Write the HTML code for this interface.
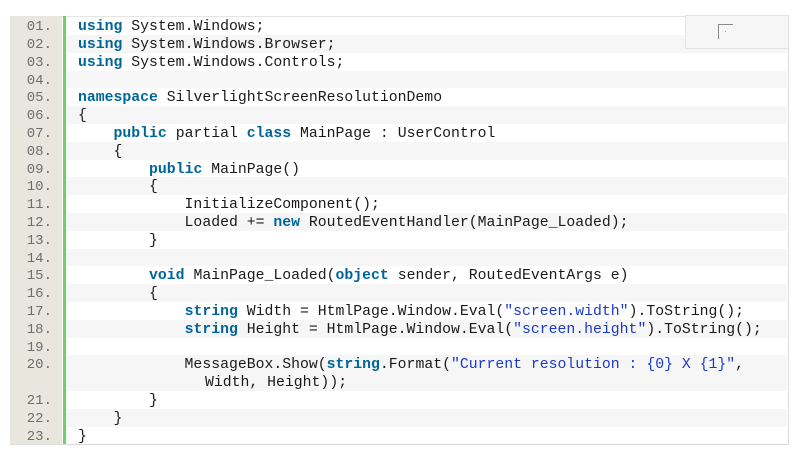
<!DOCTYPE html>
<html><head><meta charset="utf-8">
<style>
html,body{margin:0;padding:0;background:#fff;width:800px;height:451px;overflow:hidden;}
.box{position:absolute;left:10px;top:16px;width:779px;height:429px;border-top:1px solid #e4e4e0;border-right:1px solid #dcdcd8;border-bottom:1px solid #dcdcd8;box-sizing:border-box;background:#fff;}
.gut{position:absolute;left:10px;top:16px;width:52px;height:428px;background:#e8e6dd;}
.bar{position:absolute;left:63px;top:16px;width:3px;height:428px;background:#6cd26c;}
.row{position:absolute;left:66px;width:721px;height:17.8px;}
.g{background:#f6f6f6;}
.ln{position:absolute;left:10px;width:42px;text-align:right;font-family:"Liberation Mono",monospace;font-size:14px;color:#6e6e6e;line-height:17.8px;height:17.8px;padding-top:1px;}
.code{position:absolute;left:78px;font-family:"Liberation Mono",monospace;font-size:14.8px;line-height:17.8px;height:17.8px;color:#1a1a1a;white-space:pre;padding-top:1px;}
.k{color:#006699;font-weight:bold;}
.s{color:#1a3acc;}
.tr{position:absolute;left:685px;top:15px;width:104px;height:34px;background:#f6f6f6;border:1px solid #e3e3e3;box-sizing:border-box;}
.ic{position:absolute;left:32px;top:8px;width:15px;height:15px;border-top:1px solid #8a8a8a;border-left:1px solid #8a8a8a;box-sizing:border-box;}
.ic:after{content:"";position:absolute;left:6px;top:6px;width:1px;height:1px;background:#aaa;}
</style></head>
<body>
<div class="box"></div>
<div class="row g" style="top:35px"></div>
<div class="row g" style="top:70.6px"></div>
<div class="row g" style="top:106.2px"></div>
<div class="row g" style="top:141.8px"></div>
<div class="row g" style="top:177.4px"></div>
<div class="row g" style="top:213px"></div>
<div class="row g" style="top:248.6px"></div>
<div class="row g" style="top:284.2px"></div>
<div class="row g" style="top:319.8px"></div>
<div class="row g" style="top:355.4px;height:35.6px"></div>
<div class="row g" style="top:408.8px"></div>
<div class="gut"></div>
<div class="bar"></div>

<div class="ln" style="top:18.2px">01.</div>
<div class="ln" style="top:36px">02.</div>
<div class="ln" style="top:53.8px">03.</div>
<div class="ln" style="top:71.6px">04.</div>
<div class="ln" style="top:89.4px">05.</div>
<div class="ln" style="top:107.2px">06.</div>
<div class="ln" style="top:125px">07.</div>
<div class="ln" style="top:142.8px">08.</div>
<div class="ln" style="top:160.6px">09.</div>
<div class="ln" style="top:178.4px">10.</div>
<div class="ln" style="top:196.2px">11.</div>
<div class="ln" style="top:214px">12.</div>
<div class="ln" style="top:231.8px">13.</div>
<div class="ln" style="top:249.6px">14.</div>
<div class="ln" style="top:267.4px">15.</div>
<div class="ln" style="top:285.2px">16.</div>
<div class="ln" style="top:303px">17.</div>
<div class="ln" style="top:320.8px">18.</div>
<div class="ln" style="top:338.6px">19.</div>
<div class="ln" style="top:356.4px">20.</div>
<div class="ln" style="top:392px">21.</div>
<div class="ln" style="top:409.8px">22.</div>
<div class="ln" style="top:427.6px">23.</div>

<div class="code" style="top:18.2px"><span class="k">using</span> System.Windows;</div>
<div class="code" style="top:36px"><span class="k">using</span> System.Windows.Browser;</div>
<div class="code" style="top:53.8px"><span class="k">using</span> System.Windows.Controls;</div>
<div class="code" style="top:89.4px"><span class="k">namespace</span> SilverlightScreenResolutionDemo</div>
<div class="code" style="top:107.2px">{</div>
<div class="code" style="top:125px">    <span class="k">public</span> partial <span class="k">class</span> MainPage : UserControl</div>
<div class="code" style="top:142.8px">    {</div>
<div class="code" style="top:160.6px">        <span class="k">public</span> MainPage()</div>
<div class="code" style="top:178.4px">        {</div>
<div class="code" style="top:196.2px">            InitializeComponent();</div>
<div class="code" style="top:214px">            Loaded += <span class="k">new</span> RoutedEventHandler(MainPage_Loaded);</div>
<div class="code" style="top:231.8px">        }</div>
<div class="code" style="top:267.4px">        <span class="k">void</span> MainPage_Loaded(<span class="k">object</span> sender, RoutedEventArgs e)</div>
<div class="code" style="top:285.2px">        {</div>
<div class="code" style="top:303px">            <span class="k">string</span> Width = HtmlPage.Window.Eval(<span class="s">"screen.width"</span>).ToString();</div>
<div class="code" style="top:320.8px">            <span class="k">string</span> Height = HtmlPage.Window.Eval(<span class="s">"screen.height"</span>).ToString();</div>
<div class="code" style="top:356.4px">            MessageBox.Show(<span class="k">string</span>.Format(<span class="s">"Current resolution : {0} X {1}"</span>,</div>
<div class="code" style="top:374.2px;left:205px">Width, Height));</div>
<div class="code" style="top:392px">        }</div>
<div class="code" style="top:409.8px">    }</div>
<div class="code" style="top:427.6px">}</div>

<div class="tr"><div class="ic"></div></div>
</body></html>
